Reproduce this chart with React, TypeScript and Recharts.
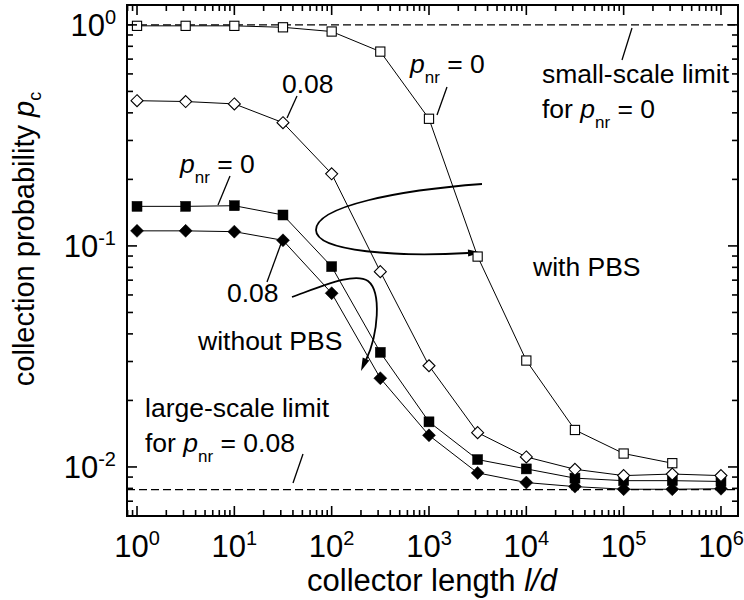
import React from 'react';
import { LineChart, Line, XAxis, YAxis, ReferenceLine, Customized } from 'recharts';

// collector length l/d (half-decade steps)
const lengths = [1, 3.16, 10, 31.6, 100, 316, 1000, 3160, 10000, 31600, 100000, 316000, 1000000];

// collection probability p_c
const withPbsP0 = [0.99, 0.99, 0.99, 0.975, 0.933, 0.757, 0.376, 0.0895, 0.0303, 0.0147, 0.0115, 0.0104];
const withPbsP008 = [0.454, 0.45, 0.439, 0.361, 0.212, 0.0765, 0.0287, 0.0143, 0.0111, 0.00976, 0.00914, 0.00929, 0.00914];
const noPbsP0 = [0.151, 0.151, 0.152, 0.138, 0.0806, 0.033, 0.016, 0.0108, 0.0098, 0.0089, 0.00867, 0.00867, 0.0086];
const noPbsP008 = [0.117, 0.117, 0.116, 0.106, 0.0611, 0.0252, 0.0139, 0.0094, 0.0085, 0.00815, 0.00793, 0.00793, 0.00797];

const smallScaleLimit = 1;
const largeScaleLimit = 0.0079;

const xDecades = [0, 1, 2, 3, 4, 5, 6];
const yDecades = [-2, -1, 0];
const minorSteps = [2, 3, 4, 5, 6, 7, 8, 9];

const X_DOMAIN: [number, number] = [0.789, 1.496e6];
const Y_DOMAIN: [number, number] = [0.006, 1.23];

const W = 744;
const H = 600;
const FONT = '"Liberation Sans", Arial, Helvetica, sans-serif';

const inDomain = (v: number, d: [number, number]) => v >= d[0] * 0.999 && v <= d[1] * 1.001;

const buildTicks = (decades: number[], domain: [number, number]) => {
  const out: number[] = [];
  const lo = Math.floor(Math.log10(domain[0]));
  const hi = Math.ceil(Math.log10(domain[1]));
  for (let k = lo; k <= hi; k++) {
    if (decades.includes(k)) out.push(Math.pow(10, k));
    minorSteps.forEach((m) => out.push(m * Math.pow(10, k)));
  }
  return out.filter((v) => inDomain(v, domain)).sort((a, b) => a - b);
};

const xTicks = buildTicks(xDecades, X_DOMAIN);
const yTicks = buildTicks(yDecades, Y_DOMAIN);

const toPoints = (vals: number[]) => vals.map((y, i) => ({ x: lengths[i], y }));

const isMajor = (v: number) => {
  const e = Math.log10(v);
  return Math.abs(e - Math.round(e)) < 1e-6;
};

const MAJOR = 10;
const MINOR = 6;

const BottomTick = (props: any) => {
  const { x, y, payload } = props;
  const major = isMajor(payload.value);
  return (
    <g>
      <line x1={x} x2={x} y1={y} y2={y - (major ? MAJOR : MINOR)} stroke="#000" strokeWidth={1.6} />
      {major && (
        <text x={x} y={y + 41} textAnchor="middle" fontSize={31} fontFamily={FONT} fill="#000">
          10<tspan fontSize={20} dy={-12}>{Math.round(Math.log10(payload.value))}</tspan>
        </text>
      )}
    </g>
  );
};

const TopTick = (props: any) => {
  const { x, y, payload } = props;
  const major = isMajor(payload.value);
  return <line x1={x} x2={x} y1={y} y2={y + (major ? MAJOR : MINOR)} stroke="#000" strokeWidth={1.6} />;
};

const LeftTick = (props: any) => {
  const { x, y, payload } = props;
  const major = isMajor(payload.value);
  return (
    <g>
      <line x1={x} x2={x + (major ? MAJOR : MINOR)} y1={y} y2={y} stroke="#000" strokeWidth={1.6} />
      {major && (
        <text x={x - 11} y={y + 11} textAnchor="end" fontSize={31} fontFamily={FONT} fill="#000">
          10<tspan fontSize={20} dy={-12}>{Math.round(Math.log10(payload.value))}</tspan>
        </text>
      )}
    </g>
  );
};

const RightTick = (props: any) => {
  const { x, y, payload } = props;
  const major = isMajor(payload.value);
  return <line x1={x} x2={x - (major ? MAJOR : MINOR)} y1={y} y2={y} stroke="#000" strokeWidth={1.6} />;
};

// markers
const OpenSquare = ({ cx, cy }: any) => (
  <rect x={cx - 4.6} y={cy - 4.6} width={9.2} height={9.2} fill="#fff" stroke="#000" strokeWidth={1.1} />
);
const FilledSquare = ({ cx, cy }: any) => (
  <rect x={cx - 5} y={cy - 5} width={10} height={10} fill="#000" stroke="#000" strokeWidth={0.5} />
);
const OpenDiamond = ({ cx, cy }: any) => (
  <polygon
    points={`${cx},${cy - 6} ${cx + 6},${cy} ${cx},${cy + 6} ${cx - 6},${cy}`}
    fill="#fff"
    stroke="#000"
    strokeWidth={1.1}
  />
);
const FilledDiamond = ({ cx, cy }: any) => (
  <polygon
    points={`${cx},${cy - 6.5} ${cx + 6.5},${cy} ${cx},${cy + 6.5} ${cx - 6.5},${cy}`}
    fill="#000"
    stroke="#000"
    strokeWidth={0.5}
  />
);

const dotOf = (Shape: any) => (p: any) => <Shape key={`m-${p.index}`} cx={p.cx} cy={p.cy} />;

const arrowHead = (tx: number, ty: number, fx: number, fy: number, len = 13, half = 3.6) => {
  const dx = tx - fx;
  const dy = ty - fy;
  const n = Math.hypot(dx, dy);
  const ux = dx / n;
  const uy = dy / n;
  const bx = tx - ux * len;
  const by = ty - uy * len;
  return `${tx},${ty} ${bx - uy * half},${by + ux * half} ${bx + uy * half},${by - ux * half}`;
};

const Sub = ({ children }: any) => (
  <>
    <tspan fontStyle="italic">p</tspan>
    <tspan fontSize={17} dy={10}>nr</tspan>
    <tspan dy={-10}>{children}</tspan>
  </>
);

const Annotations = () => {
  const t = { fontFamily: FONT, fontSize: 26.5, fill: '#000' };
  const lead = { stroke: '#000', strokeWidth: 1.3 };
  return (
    <g>
      <rect x={127} y={5} width={611} height={511} fill="none" stroke="#000" strokeWidth={2} />

      <text transform="translate(34,239) rotate(-90)" textAnchor="middle" fontSize={29} fontFamily={FONT} fill="#000">
        collection probability <tspan fontStyle="italic">p</tspan>
        <tspan fontSize={18} dy={7}>c</tspan>
      </text>
      <text x={432} y={591} textAnchor="middle" fontSize={31} fontFamily={FONT} fill="#000">
        collector length <tspan fontStyle="italic">l/d</tspan>
      </text>

      {/* with PBS group */}
      <text x={410} y={73} {...t}>
        <Sub>{' = 0'}</Sub>
      </text>
      <line x1={437} y1={115} x2={447} y2={87} {...lead} />
      <text x={282} y={93} {...t}>0.08</text>
      <line x1={287} y1={118} x2={297} y2={96} {...lead} />
      <text x={542} y={83} {...t}>small-scale limit</text>
      <text x={542} y={118} {...t}>
        for <Sub>{' = 0'}</Sub>
      </text>
      <line x1={622} y1={60} x2={632} y2={28} {...lead} />
      <text x={533} y={276} {...t}>with PBS</text>
      <path d="M482,184 C400,190 316,206 316,230 C316,252 400,257 468,253" fill="none" stroke="#000" strokeWidth={1.8} />
      <polygon points={arrowHead(481, 252.5, 468, 253)} fill="#000" />

      {/* without PBS group */}
      <text x={180} y={173} {...t}>
        <Sub>{' = 0'}</Sub>
      </text>
      <line x1={218} y1={205} x2={230} y2={176} {...lead} />
      <text x={227} y={302} {...t}>0.08</text>
      <line x1={267} y1={282} x2={282} y2={241} {...lead} />
      <text x={198} y={350} {...t}>without PBS</text>
      <path d="M292,297 C325,285 355,272 368,281 C382,292 378,335 366,360" fill="none" stroke="#000" strokeWidth={1.8} />
      <polygon points={arrowHead(361, 371, 366, 359)} fill="#000" />

      {/* large-scale limit */}
      <text x={145} y={417} {...t}>large-scale limit</text>
      <text x={145} y={452} {...t}>
        for <Sub>{' = 0.08'}</Sub>
      </text>
      <line x1={293} y1={483} x2={303} y2={454} {...lead} />
    </g>
  );
};

const App: React.FC = () => {
  return (
    <div style={{ position: 'absolute', left: 0, top: 0, width: W, height: H, background: '#fff', fontFamily: FONT }}>
      <LineChart width={W} height={H} margin={{ top: 4, right: 5, bottom: 0, left: 0 }}>
        <XAxis
          dataKey="x"
          type="number"
          scale="log"
          domain={X_DOMAIN}
          allowDataOverflow
          ticks={xTicks}
          interval={0}
          tick={<BottomTick />}
          tickLine={false}
          tickSize={0}
          tickMargin={0}
          axisLine={{ stroke: '#000', strokeWidth: 2 }}
          height={84}
        />
        <XAxis
          xAxisId="top"
          orientation="top"
          dataKey="x"
          type="number"
          scale="log"
          domain={X_DOMAIN}
          allowDataOverflow
          ticks={xTicks}
          interval={0}
          tick={<TopTick />}
          tickLine={false}
          tickSize={0}
          tickMargin={0}
          axisLine={{ stroke: '#000', strokeWidth: 2 }}
          height={1}
        />
        <YAxis
          type="number"
          scale="log"
          domain={Y_DOMAIN}
          allowDataOverflow
          ticks={yTicks}
          interval={0}
          tick={<LeftTick />}
          tickLine={false}
          tickSize={0}
          tickMargin={0}
          axisLine={{ stroke: '#000', strokeWidth: 2 }}
          width={127}
        />
        <YAxis
          yAxisId="right"
          orientation="right"
          type="number"
          scale="log"
          domain={Y_DOMAIN}
          allowDataOverflow
          ticks={yTicks}
          interval={0}
          tick={<RightTick />}
          tickLine={false}
          tickSize={0}
          tickMargin={0}
          axisLine={{ stroke: '#000', strokeWidth: 2 }}
          width={1}
        />

        <ReferenceLine y={smallScaleLimit} stroke="#000" strokeWidth={1.3} strokeDasharray="8 4" />
        <ReferenceLine y={largeScaleLimit} stroke="#000" strokeWidth={1.3} strokeDasharray="8 4" />

        <Line data={toPoints(noPbsP008)} dataKey="y" stroke="#000" strokeWidth={1} dot={dotOf(FilledDiamond)} isAnimationActive={false} />
        <Line data={toPoints(noPbsP0)} dataKey="y" stroke="#000" strokeWidth={1} dot={dotOf(FilledSquare)} isAnimationActive={false} />
        <Line data={toPoints(withPbsP0)} dataKey="y" stroke="#000" strokeWidth={1} dot={dotOf(OpenSquare)} isAnimationActive={false} />
        <Line data={toPoints(withPbsP008)} dataKey="y" stroke="#000" strokeWidth={1} dot={dotOf(OpenDiamond)} isAnimationActive={false} />

        <Customized component={Annotations} />
      </LineChart>
    </div>
  );
};

export default App;
